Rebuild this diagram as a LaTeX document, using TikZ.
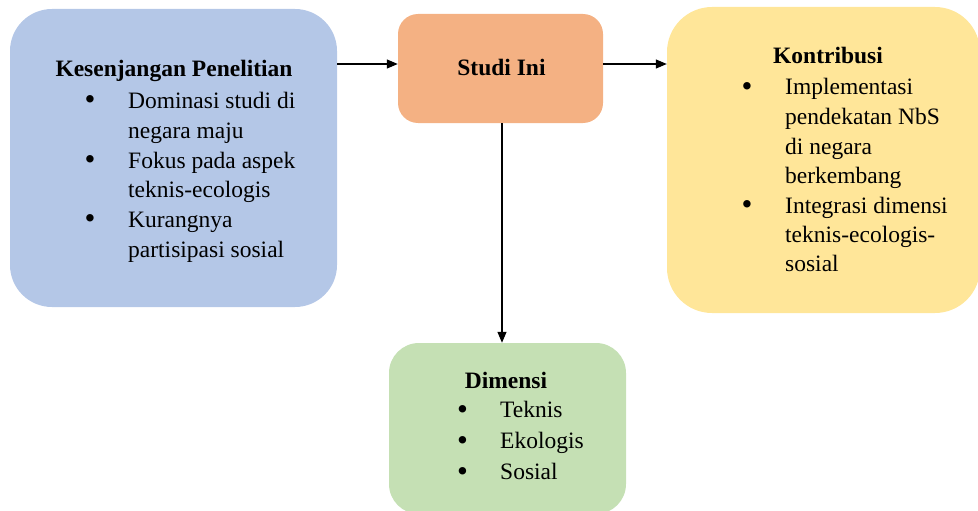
\documentclass[tikz,border=0pt]{standalone}
\usepackage{fontspec}
\setmainfont{Liberation Serif}
\usetikzlibrary{arrows.meta}
\definecolor{cblue}{HTML}{B4C7E7}
\definecolor{corange}{HTML}{F4B183}
\definecolor{cyellow}{HTML}{FFE699}
\definecolor{cgreen}{HTML}{C5E0B4}
\tikzset{
  box/.style={rectangle, draw=none, inner sep=0pt},
  txt/.style={inner sep=0pt, anchor=base west, font=\fontsize{23.5}{28}\selectfont},
  head/.style={inner sep=0pt, anchor=base, font=\fontsize{23.5}{28}\selectfont\bfseries},
  bul/.style={inner sep=0pt, anchor=center, font=\fontsize{31}{34}\selectfont},
  arr/.style={line width=1.2pt, -{Triangle[length=11pt,width=9pt]}}
}
\begin{document}
\begin{tikzpicture}[x=1pt,y=-1pt]
\useasboundingbox (0,0) rectangle (978,511);
% boxes
\node[box, fill=cblue, rounded corners=42pt, minimum width=327pt, minimum height=298pt] (gap) at (173.5,158) {};
\node[box, fill=corange, rounded corners=20pt, minimum width=205pt, minimum height=109pt] (studi) at (500.5,68.5) {};
\node[box, fill=cyellow, rounded corners=45pt, minimum width=313pt, minimum height=306pt] (kon) at (823.5,160) {};
\node[box, fill=cgreen, rounded corners=30pt, minimum width=237pt, minimum height=171pt] (dim) at (507.5,428.5) {};
% arrows
\draw[arr] (gap.east |- 0,64) -- (studi.west |- 0,64);
\draw[arr] (studi.east |- 0,64) -- (kon.west |- 0,64);
\draw[arr] ([xshift=1.5pt]studi.south) -- ([xshift=1.5pt]studi.south |- dim.north);
% blue text
\node[head] (gh) at (174,77) {Kesenjangan Penelitian};
\node[bul] (gb1) at (90,103) {•};
\node[txt] (g1) at (128,108) {Dominasi studi di};
\node[txt] (g2) at (128,138) {negara maju};
\node[bul] (gb2) at (90,163) {•};
\node[txt] (g3) at (128,168) {Fokus pada aspek};
\node[txt] (g4) at (128,197.5) {teknis-ecologis};
\node[bul] (gb3) at (90,222) {•};
\node[txt] (g5) at (128,227) {Kurangnya};
\node[txt] (g6) at (128,257) {partisipasi sosial};
% orange text
\node[head] (sh) at (501.5,76) {Studi Ini};
% yellow text
\node[head] (kh) at (828,64) {Kontribusi};
\node[bul] (kb1) at (747,90) {•};
\node[txt] (k1) at (785,95) {Implementasi};
\node[txt] (k2) at (785,124.5) {pendekatan NbS};
\node[txt] (k3) at (785,154) {di negara};
\node[txt] (k4) at (785,183) {berkembang};
\node[bul] (kb2) at (747,208) {•};
\node[txt] (k5) at (785,213) {Integrasi dimensi};
\node[txt] (k6) at (785,242) {teknis-ecologis-};
\node[txt] (k7) at (785,271) {sosial};
% green text
\node[head] (dh) at (506,388) {Dimensi};
\node[bul] (db1) at (462.5,413) {•};
\node[txt] (d1) at (500,417.5) {Teknis};
\node[bul] (db2) at (462.5,444) {•};
\node[txt] (d2) at (500,448.5) {Ekologis};
\node[bul] (db3) at (462.5,475) {•};
\node[txt] (d3) at (500,479.5) {Sosial};
\end{tikzpicture}
\end{document}
